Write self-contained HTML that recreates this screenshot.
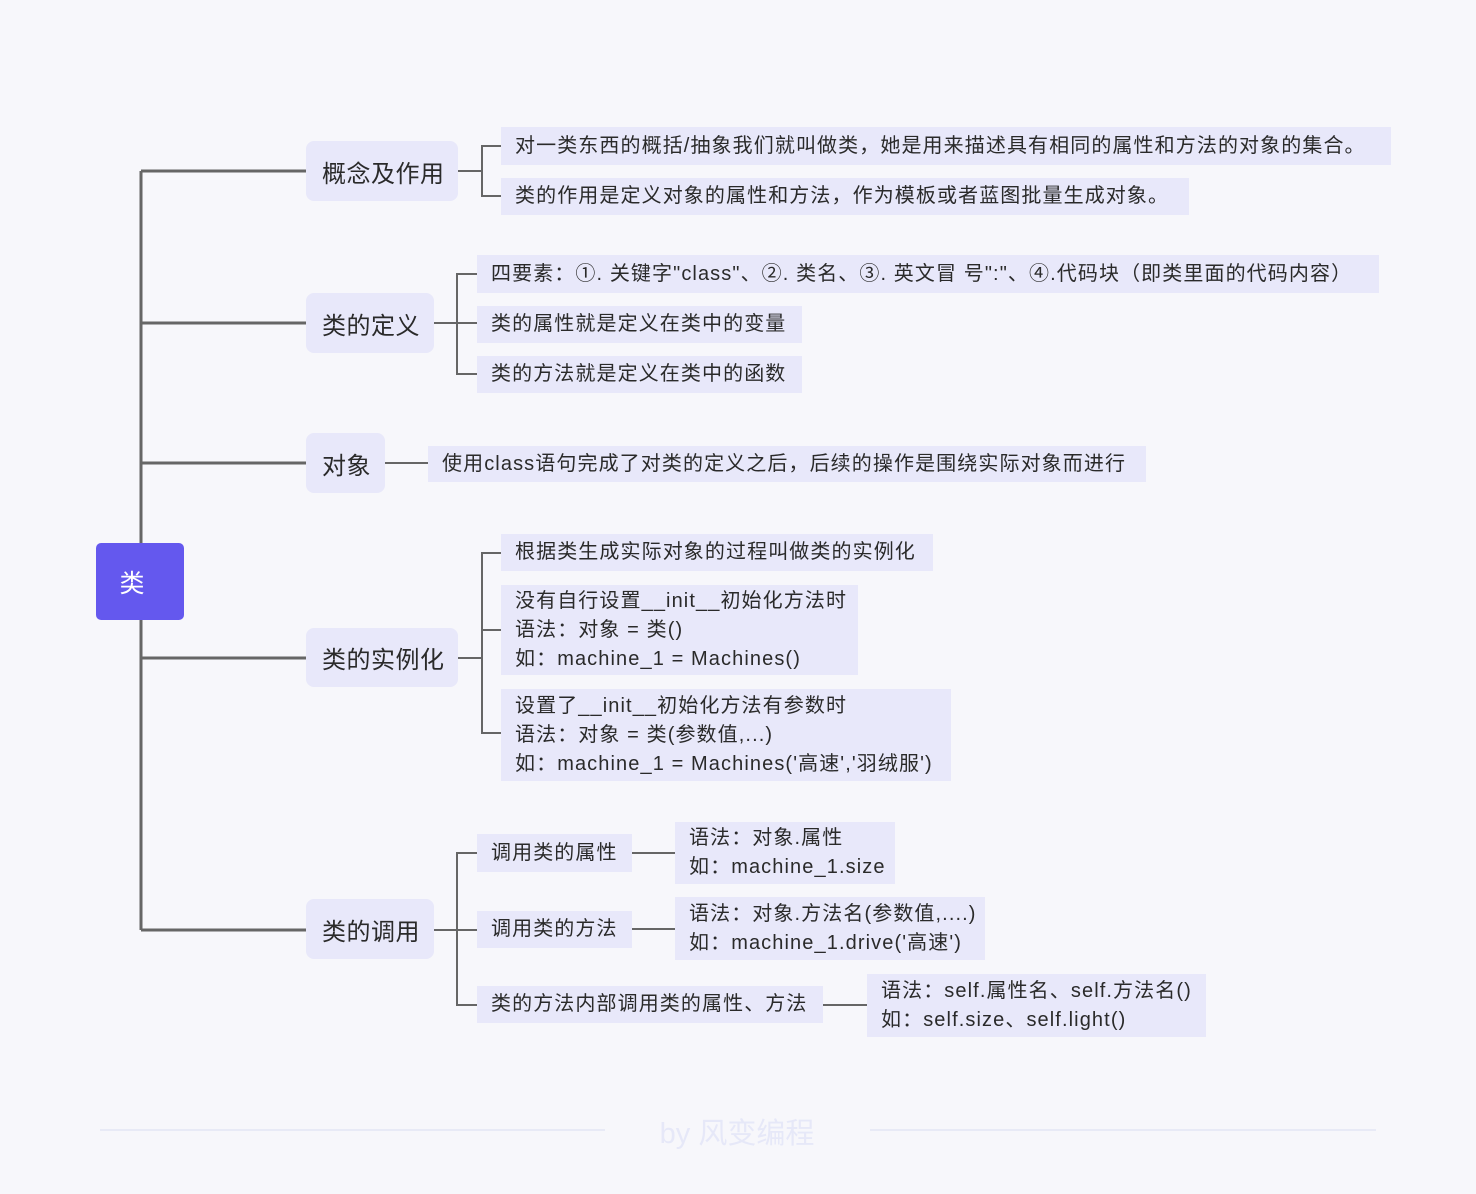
<!DOCTYPE html>
<html><head><meta charset="utf-8"><style>
body{margin:0;width:1476px;height:1194px;background:#f7f7fb;position:relative;overflow:hidden;font-family:"Liberation Sans","Noto Sans CJK SC",sans-serif;color:#2a2a2a}
.n{position:absolute;background:#e8e8fa;box-sizing:border-box;white-space:nowrap}
.l1{border-radius:8px;font-size:24px;display:flex;align-items:center;padding-left:16px;letter-spacing:0.5px}
.l2{font-size:20px;padding-left:14px;display:flex;flex-direction:column;justify-content:center;line-height:29px;letter-spacing:1.1px}
svg{position:absolute;left:0;top:0}
</style></head><body>
<svg width="1476" height="1194">
<g stroke="#666" fill="none">
<path stroke-width="3" d="M141 171V930M141 171H306M141 323H306M141 463H306M141 658H306M141 930H306"/>
<g stroke-width="2">
<path d="M458 171H482M501 146H482V196H501"/>
<path d="M434 323H477M477 274H457V374H477"/>
<path d="M385 463H428"/>
<path d="M458 658H482M501 553H482V733H501M482 630H501"/>
<path d="M434 930H477M477 853H457V1005H477"/>
<path d="M632 853H675M632 929H675M823 1005H867"/>
</g></g>
<g stroke="#e8eaf6" stroke-width="2"><path d="M100 1130H605M870 1130H1376"/></g>
</svg>
<div style="position:absolute;left:96px;top:543px;width:88px;height:77px;background:#6458ee;border-radius:5px;color:#fff;font-size:25px;display:flex;align-items:center;justify-content:center;padding-right:16px;box-sizing:border-box">类</div>
<div class="n l1" style="left:306px;top:141px;width:152px;height:60px">概念及作用</div>
<div class="n l1" style="left:306px;top:293px;width:128px;height:60px">类的定义</div>
<div class="n l1" style="left:306px;top:433px;width:79px;height:60px">对象</div>
<div class="n l1" style="left:306px;top:628px;width:152px;height:59px">类的实例化</div>
<div class="n l1" style="left:306px;top:899px;width:128px;height:60px">类的调用</div>

<div class="n l2" style="left:501px;top:127px;width:890px;height:38px">对一类东西的概括/抽象我们就叫做类，她是用来描述具有相同的属性和方法的对象的集合。</div>
<div class="n l2" style="left:501px;top:178px;width:688px;height:37px">类的作用是定义对象的属性和方法，作为模板或者蓝图批量生成对象。</div>
<div class="n l2" style="left:477px;top:255px;width:902px;height:38px">四要素：①. 关键字"class"、②. 类名、③. 英文冒 号":"、④.代码块（即类里面的代码内容）</div>
<div class="n l2" style="left:477px;top:306px;width:325px;height:37px">类的属性就是定义在类中的变量</div>
<div class="n l2" style="left:477px;top:356px;width:325px;height:37px">类的方法就是定义在类中的函数</div>
<div class="n l2" style="left:428px;top:446px;width:718px;height:36px">使用class语句完成了对类的定义之后，后续的操作是围绕实际对象而进行</div>
<div class="n l2" style="left:501px;top:534px;width:432px;height:37px">根据类生成实际对象的过程叫做类的实例化</div>
<div class="n l2" style="left:501px;top:585px;width:357px;height:90px"><div>没有自行设置__init__初始化方法时</div><div>语法：对象 = 类()</div><div>如：machine_1 = Machines()</div></div>
<div class="n l2" style="left:501px;top:689px;width:450px;height:92px"><div>设置了__init__初始化方法有参数时</div><div>语法：对象 = 类(参数值,...)</div><div>如：machine_1 = Machines('高速','羽绒服')</div></div>
<div class="n l2" style="left:477px;top:834px;width:155px;height:38px">调用类的属性</div>
<div class="n l2" style="left:477px;top:911px;width:155px;height:37px">调用类的方法</div>
<div class="n l2" style="left:477px;top:986px;width:346px;height:37px">类的方法内部调用类的属性、方法</div>
<div class="n l2" style="left:675px;top:822px;width:220px;height:62px"><div>语法：对象.属性</div><div>如：machine_1.size</div></div>
<div class="n l2" style="left:675px;top:897px;width:310px;height:63px"><div>语法：对象.方法名(参数值,....)</div><div>如：machine_1.drive('高速')</div></div>
<div class="n l2" style="left:867px;top:974px;width:339px;height:63px"><div>语法：self.属性名、self.方法名()</div><div>如：self.size、self.light()</div></div>
<div style="position:absolute;left:600px;top:1110px;width:274px;text-align:center;font-size:29px;color:#e6e8f8">by 风变编程</div>
</body></html>
